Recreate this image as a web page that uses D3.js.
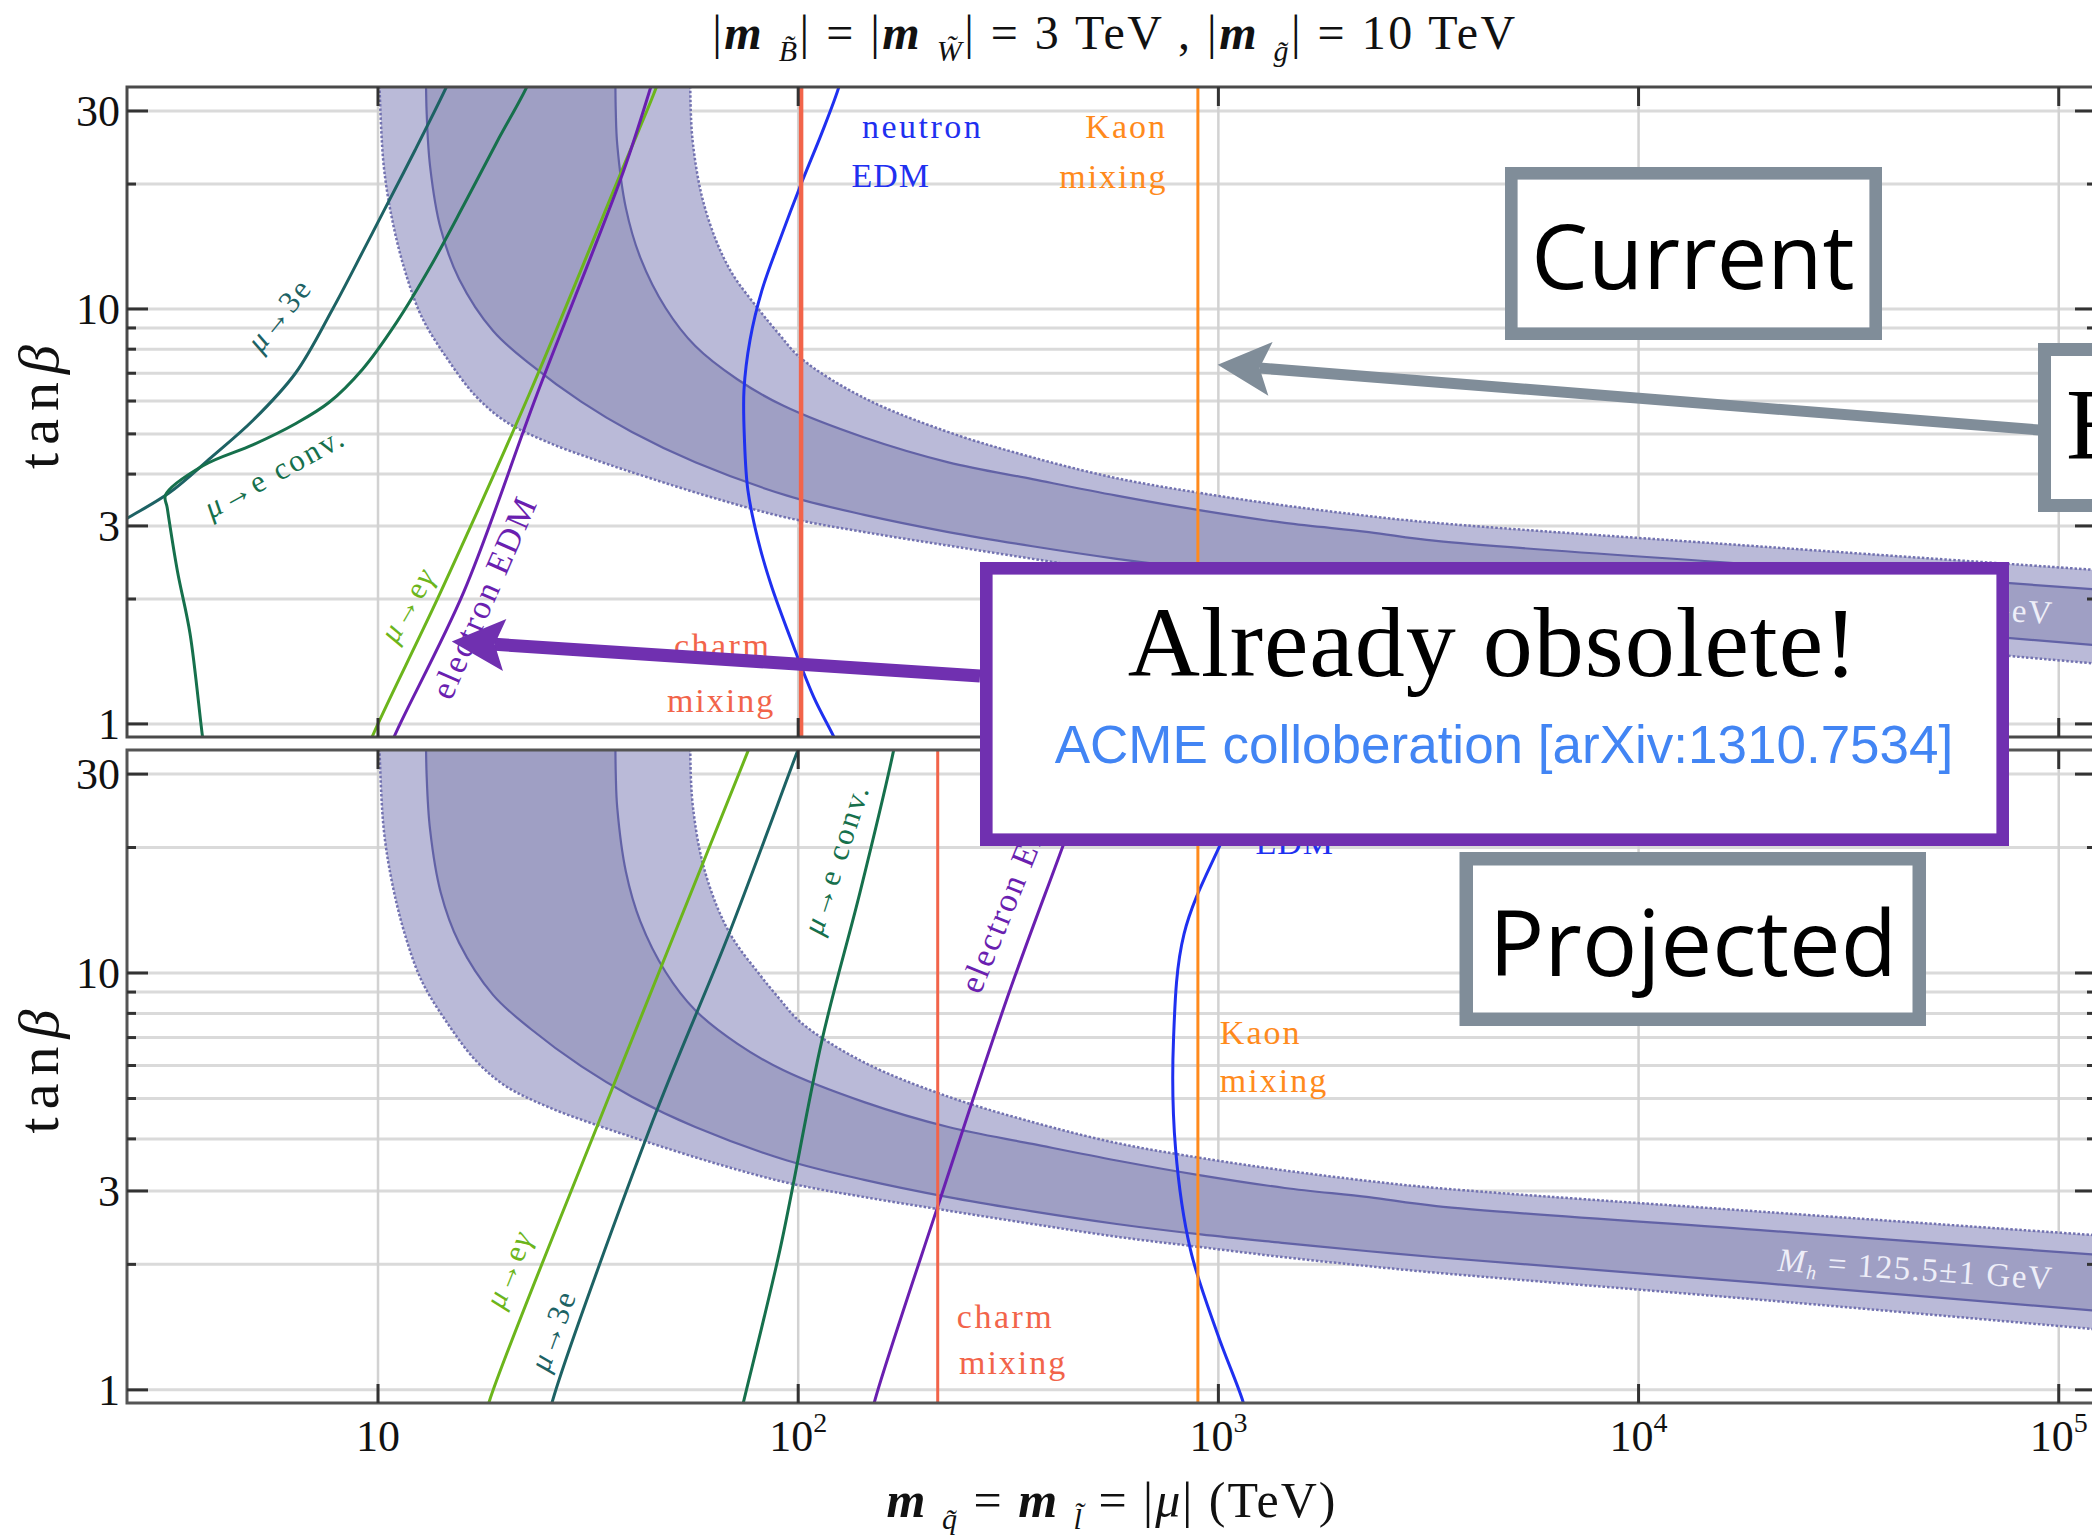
<!DOCTYPE html>
<html>
<head>
<meta charset="utf-8">
<script src="https://cdn.jsdelivr.net/npm/d3@7"></script>
<style>
body { margin: 0; background: #fff; }
svg { display: block; }
text { font-family: "Liberation Serif", "DejaVu Serif", serif; }
</style>
</head>
<body>
<script>
var W = 2092, H = 1535;

// axis ranges: squark/slepton mass (TeV) and tan beta
var mDomain = [2.527, 122650];
var tDomain = [0.93, 34.27];
var mTicks = [10, 100, 1000, 10000, 100000];
var mTickExp = ["", "2", "3", "4", "5"];
var tTicks = [1, 3, 10, 30];
var tGrid = [1, 2, 3, 4, 5, 6, 7, 8, 9, 10, 20, 30];

// Higgs mass band  M_h = 125.5 +- 1 GeV, edges as [m, tanb]
var bandOuterLow = [[10.0, 40], [10.08, 34], [10.32, 22.1], [10.81, 16.4], [11.58, 12.4], [12.7, 9.58], [14.6, 7.6], [17.1, 6.16], [20.1, 5.36], [25.4, 4.77], [33.5, 4.3], [44.1, 3.92], [63.8, 3.49], [94.1, 3.14], [143.6, 2.9], [227.7, 2.69], [360.9, 2.5], [572.6, 2.33], [908, 2.2], [1439, 2.08], [2280, 1.98], [3300, 1.91], [20180, 1.64], [130000, 1.39]];
var bandInnerLow = [[13.0, 40], [13.05, 30], [13.3, 22.1], [14.1, 15.6], [15.6, 11.8], [18.8, 8.85], [23.1, 7.34], [30.5, 5.97], [40.2, 5.05], [56.9, 4.27], [94.1, 3.55], [143.6, 3.19], [227.7, 2.9], [360.9, 2.68], [572.6, 2.5], [908, 2.36], [1439, 2.25], [2280, 2.15], [3300, 2.08], [20180, 1.8], [130000, 1.54]];
var bandInnerUp = [[36.7, 40], [36.8, 30], [37.1, 24.9], [38.9, 17.5], [42.1, 13.3], [48.4, 10.04], [56.9, 8.14], [71.6, 6.77], [92, 5.85], [143.6, 4.9], [227.7, 4.27], [360.9, 3.89], [572.6, 3.55], [908, 3.27], [1439, 3.05], [2280, 2.9], [3300, 2.76], [20180, 2.41], [130000, 2.1]];
var bandOuterUp = [[55.3, 40], [55.5, 30], [56.2, 24.9], [58.9, 18.8], [63.8, 14.6], [69.9, 12.1], [80.4, 10.0], [90, 8.7], [101.6, 7.6], [143.6, 6.1], [227.7, 5.05], [360.9, 4.39], [572.6, 3.91], [908, 3.6], [1439, 3.36], [2280, 3.17], [3300, 3.05], [20180, 2.67], [130000, 2.34]];
var bandLabelAt = [21370, 1.93];

// current bounds
var mu3eNow = [[2.3, 2.95], [2.53, 3.13], [3.18, 3.6], [4.01, 4.39], [5.05, 5.4], [6.36, 7.0], [7.8, 10.0], [9.25, 13.9], [10.25, 17.0], [12.24, 24.1], [14.55, 34.3], [15.2, 38]];
var muConvNow = [[3.88, 0.85], [3.83, 0.918], [3.57, 1.65], [3.33, 2.34], [3.15, 3.32], [3.12, 3.56], [3.83, 4.19], [5.05, 4.71], [6.36, 5.29], [7.64, 5.95], [9.2, 7.17], [11.06, 9.27], [13.3, 12.6], [16.0, 17.8], [19.2, 25.3], [22.6, 34.3], [23.5, 38]];
var muEgNow = [[9.4, 0.85], [9.63, 0.918], [14.1, 2.08], [22.9, 6.23], [38.0, 21.5], [46.0, 34.3], [47.5, 38]];
var eEdmNow = [[10.6, 0.85], [10.86, 0.918], [16.0, 2.08], [23.9, 6.23], [38.4, 21.5], [44.6, 34.3], [46.0, 38]];
var nEdmNow = [[128, 38], [125.0, 34.3], [113.9, 26.6], [101.6, 20.0], [90.5, 14.7], [82.0, 11.1], [76.8, 8.42], [74.3, 6.38], [74.5, 4.83], [75.9, 3.66], [80.2, 2.78], [86.1, 2.17], [94.1, 1.69], [108.9, 1.16], [122.2, 0.92], [126, 0.85]];
var charmNow = 101.6;
var kaonNow = 893.8;

// projected bounds
var muEgProj = [[18.0, 0.85], [18.4, 0.938], [35.0, 4.89], [75.9, 34.0], [79, 38]];
var mu3eProj = [[25.5, 0.85], [26.0, 0.938], [45.2, 4.45], [68.4, 12.4], [99.9, 34.3], [104, 38]];
var muConvProj = [[72.5, 0.85], [74.0, 0.93], [90.5, 2.17], [114, 6.92], [140.3, 15.6], [168.6, 34.1], [172, 38]];
var eEdmProj = [[149, 0.85], [152, 0.938], [217.5, 2.86], [314.6, 8.73], [424.5, 19.9], [515.5, 34.0], [530, 38]];
var nEdmProj = [[1340, 38], [1312, 33.9], [1008, 20.2], [828.3, 12.4], [782, 6.92], [791, 3.78], [858, 2.17], [996, 1.36], [1144, 0.938], [1170, 0.85]];
var charmProj = 214.8;
var kaonProj = 893.8;

var col = {
  mu3e: "#1d6264", conv: "#16704c", eg: "#6cb51c", eedm: "#6a1fb0",
  nedm: "#1f30f0", charm: "#f2644a", kaon: "#ff8a1c"
};

var panels = [
  {
    id: "now", top: 87, bottom: 737, frame: "#4a4a4a",
    curves: [
      {pts: mu3eNow, c: col.mu3e, w: 3}, {pts: muConvNow, c: col.conv, w: 3},
      {pts: muEgNow, c: col.eg, w: 3}, {pts: eEdmNow, c: col.eedm, w: 3},
      {pts: nEdmNow, c: col.nedm, w: 3},
      {pts: [[charmNow, 0.85], [charmNow, 38]], c: col.charm, w: 4.5},
      {pts: [[kaonNow, 0.85], [kaonNow, 38]], c: col.kaon, w: 3}
    ],
    labels: [
      {s: "μ→3e", m: 5.8, t: 9.71, r: -51, a: "middle", c: col.mu3e, f: 31, ls: 2},
      {s: "μ→e conv.", m: 5.67, t: 4.05, r: -29, a: "middle", c: col.conv, f: 31, ls: 2.5},
      {s: "μ→eγ", m: 11.72, t: 1.94, r: -60, a: "middle", c: col.eg, f: 31, ls: 2},
      {s: "electron EDM", m: 14.92, t: 1.133, r: -66.4, a: "start", c: col.eedm, f: 34, ls: 2},
      {s: "neutron", m: 141.8, t: 25.8, r: 0, a: "start", c: col.nedm, f: 34, ls: 2.5},
      {s: "EDM", m: 133.9, t: 19.7, r: 0, a: "start", c: col.nedm, f: 34, ls: 1},
      {s: "Kaon", m: 754.6, t: 25.8, r: 0, a: "end", c: col.kaon, f: 34, ls: 2},
      {s: "mixing", m: 757, t: 19.6, r: 0, a: "end", c: col.kaon, f: 34, ls: 2},
      {s: "charm", m: 50.6, t: 1.45, r: 0, a: "start", c: col.charm, f: 34, ls: 2.5},
      {s: "mixing", m: 48.7, t: 1.07, r: 0, a: "start", c: col.charm, f: 34, ls: 2}
    ]
  },
  {
    id: "proj", top: 750, bottom: 1403, frame: "#555",
    curves: [
      {pts: muEgProj, c: col.eg, w: 3}, {pts: mu3eProj, c: col.mu3e, w: 3},
      {pts: muConvProj, c: col.conv, w: 3}, {pts: eEdmProj, c: col.eedm, w: 3},
      {pts: nEdmProj, c: col.nedm, w: 3},
      {pts: [[charmProj, 0.85], [charmProj, 38]], c: col.charm, w: 3},
      {pts: [[kaonProj, 0.85], [kaonProj, 38]], c: col.kaon, w: 3}
    ],
    labels: [
      {s: "μ→eγ", m: 20.4, t: 1.95, r: -68, a: "middle", c: col.eg, f: 31, ls: 2},
      {s: "μ→3e", m: 26.0, t: 1.39, r: -70, a: "middle", c: col.mu3e, f: 31, ls: 2},
      {s: "μ→e conv.", m: 122.7, t: 18.8, r: -72, a: "middle", c: col.conv, f: 31, ls: 2.5},
      {s: "electron EDM", m: 270.8, t: 8.84, r: -68, a: "start", c: col.eedm, f: 34, ls: 2},
      {s: "neutron", m: 1298, t: 25.3, r: 0, a: "start", c: col.nedm, f: 34, ls: 2.5},
      {s: "EDM", m: 1226, t: 19.3, r: 0, a: "start", c: col.nedm, f: 34, ls: 1},
      {s: "Kaon", m: 1008, t: 6.77, r: 0, a: "start", c: col.kaon, f: 34, ls: 2},
      {s: "mixing", m: 1008, t: 5.18, r: 0, a: "start", c: col.kaon, f: 34, ls: 2},
      {s: "charm", m: 238.5, t: 1.41, r: 0, a: "start", c: col.charm, f: 34, ls: 2.5},
      {s: "mixing", m: 241.3, t: 1.09, r: 0, a: "start", c: col.charm, f: 34, ls: 2}
    ]
  }
];

var x = d3.scaleLog().domain(mDomain).range([127, 2096]);

var svg = d3.select("body").append("svg")
  .attr("width", W).attr("height", H);

svg.append("rect").attr("width", W).attr("height", H).attr("fill", "#fff");

var defs = svg.append("defs");

function addLabel(g, text, px, py, opt) {
  var el = g.append("text")
    .attr("x", px).attr("y", py)
    .attr("text-anchor", opt.a)
    .attr("fill", opt.c)
    .style("font-size", opt.f + "px")
    .style("letter-spacing", opt.ls + "px");
  if (opt.r) el.attr("transform", "rotate(" + opt.r + "," + px + "," + py + ")");
  if (opt.a === "middle") el.attr("dy", "0.35em");
  // italic greek letters
  text.split(/(μ|γ)/).forEach(function(part) {
    if (!part) return;
    var ts = el.append("tspan").text(part);
    if (part === "μ" || part === "γ") ts.style("font-style", "italic");
  });
  return el;
}

panels.forEach(function(p) {
  var y = d3.scaleLog().domain(tDomain).range([p.bottom, p.top]);
  var line = d3.line()
    .x(function(d) { return x(d[0]); })
    .y(function(d) { return y(d[1]); })
    .curve(d3.curveCatmullRom.alpha(0.5));

  defs.append("clipPath").attr("id", "clip-" + p.id)
    .append("rect")
    .attr("x", 127).attr("y", p.top)
    .attr("width", 2096 - 127).attr("height", p.bottom - p.top);

  var g = svg.append("g");
  var plot = g.append("g").attr("clip-path", "url(#clip-" + p.id + ")");

  // grid
  plot.selectAll(".hgrid").data(tGrid).enter().append("line")
    .attr("x1", 127).attr("x2", 2096)
    .attr("y1", function(d) { return y(d); }).attr("y2", function(d) { return y(d); })
    .attr("stroke", "#dadada").attr("stroke-width", 3);
  plot.selectAll(".vgrid").data(mTicks).enter().append("line")
    .attr("x1", function(d) { return x(d); }).attr("x2", function(d) { return x(d); })
    .attr("y1", p.top).attr("y2", p.bottom)
    .attr("stroke", "#d2d2d2").attr("stroke-width", 2.5);

  // Higgs band
  function bandPath(lo, up) {
    return line(lo) + line(up.slice().reverse()).replace(/^M/, "L") + "Z";
  }
  plot.append("path").attr("d", bandPath(bandOuterLow, bandOuterUp))
    .attr("fill", "#babad8");
  plot.append("path").attr("d", bandPath(bandInnerLow, bandInnerUp))
    .attr("fill", "#9f9fc4");
  [bandOuterLow, bandOuterUp].forEach(function(e) {
    plot.append("path").attr("d", line(e)).attr("fill", "none")
      .attr("stroke", "#7272b0").attr("stroke-width", 2.5)
      .attr("stroke-dasharray", "2.5,2");
  });
  [bandInnerLow, bandInnerUp].forEach(function(e) {
    plot.append("path").attr("d", line(e)).attr("fill", "none")
      .attr("stroke", "#6262a6").attr("stroke-width", 2.2);
  });

  // band label
  var bx = x(bandLabelAt[0]), by = y(bandLabelAt[1]);
  var bl = plot.append("text")
    .attr("x", bx).attr("y", by)
    .attr("transform", "rotate(3.9," + bx + "," + by + ")")
    .attr("fill", "#eeeef8")
    .style("font-size", "33px").style("letter-spacing", "1.5px");
  bl.append("tspan").style("font-style", "italic").text("M");
  bl.append("tspan").attr("dy", 6).style("font-size", "20px").style("font-style", "italic").text("h");
  bl.append("tspan").attr("dy", -6).text(" = 125.5±1 GeV");

  // constraint curves
  plot.selectAll(".curve").data(p.curves).enter().append("path")
    .attr("d", function(d) { return line(d.pts); })
    .attr("fill", "none")
    .attr("stroke", function(d) { return d.c; })
    .attr("stroke-width", function(d) { return d.w; });

  // curve labels
  p.labels.forEach(function(l) {
    addLabel(g, l.s, x(l.m), y(l.t), l);
  });

  // frame and ticks
  g.append("rect")
    .attr("x", 127).attr("y", p.top)
    .attr("width", 2096 - 127).attr("height", p.bottom - p.top)
    .attr("fill", "none").attr("stroke", p.frame).attr("stroke-width", 3);

  tGrid.forEach(function(t) {
    var len = tTicks.indexOf(t) >= 0 ? 21 : 9;
    g.append("line").attr("x1", 127).attr("x2", 127 + len)
      .attr("y1", y(t)).attr("y2", y(t))
      .attr("stroke", "#333").attr("stroke-width", 3);
    g.append("line").attr("x1", 2096).attr("x2", 2096 - len)
      .attr("y1", y(t)).attr("y2", y(t))
      .attr("stroke", "#333").attr("stroke-width", 3);
  });
  mTicks.forEach(function(m) {
    g.append("line").attr("x1", x(m)).attr("x2", x(m))
      .attr("y1", p.bottom).attr("y2", p.bottom - 19)
      .attr("stroke", "#333").attr("stroke-width", 3);
    g.append("line").attr("x1", x(m)).attr("x2", x(m))
      .attr("y1", p.top).attr("y2", p.top + 19)
      .attr("stroke", "#333").attr("stroke-width", 3);
  });

  // y tick labels
  g.selectAll(".ylab").data(tTicks).enter().append("text")
    .attr("x", 120).attr("y", function(d) { return y(d); })
    .attr("dy", "0.35em")
    .attr("text-anchor", "end")
    .attr("fill", "#111")
    .style("font-size", "44px")
    .text(function(d) { return d; });

  // y axis title
  var ymid = (p.top + p.bottom) / 2;
  var yt = g.append("text")
    .attr("x", 67).attr("y", ymid)
    .attr("transform", "rotate(-90,58," + ymid + ")")
    .attr("text-anchor", "middle")
    .attr("fill", "#111")
    .style("font-size", "58px").style("letter-spacing", "8px");
  yt.append("tspan").text("tan");
  yt.append("tspan").style("font-style", "italic").text("β");
  p.y = y;
});

// x tick labels (bottom panel only)
mTicks.forEach(function(m, i) {
  var t = svg.append("text")
    .attr("x", x(m)).attr("y", 1451)
    .attr("text-anchor", "middle")
    .attr("fill", "#111")
    .style("font-size", "44px");
  t.append("tspan").text("10");
  if (mTickExp[i]) {
    t.append("tspan").attr("dy", -19).style("font-size", "28px").text(mTickExp[i]);
  }
});

// title
function sub(el, s) {
  el.append("tspan").attr("dy", 12).style("font-size", "30px").style("font-style", "italic").text(s);
}
var title = svg.append("text")
  .attr("x", 1115).attr("y", 49)
  .attr("text-anchor", "middle")
  .attr("fill", "#111")
  .style("font-size", "48px").style("letter-spacing", "2.5px");
title.append("tspan").text("|");
title.append("tspan").style("font-style", "italic").style("font-weight", "bold").text("m ");
sub(title, "B\u0303");
title.append("tspan").attr("dy", -12).text("| = |");
title.append("tspan").style("font-style", "italic").style("font-weight", "bold").text("m ");
sub(title, "W\u0303");
title.append("tspan").attr("dy", -12).text("| = 3 TeV ,  |");
title.append("tspan").style("font-style", "italic").style("font-weight", "bold").text("m ");
sub(title, "g\u0303");
title.append("tspan").attr("dy", -12).text("| = 10 TeV");

// x axis title
var xt = svg.append("text")
  .attr("x", 1112).attr("y", 1517)
  .attr("text-anchor", "middle")
  .attr("fill", "#111")
  .style("font-size", "50px").style("letter-spacing", "2px");
xt.append("tspan").style("font-style", "italic").style("font-weight", "bold").text("m ");
sub(xt, "q\u0303");
xt.append("tspan").attr("dy", -12).text(" = ");
xt.append("tspan").style("font-style", "italic").style("font-weight", "bold").text("m ");
sub(xt, "l\u0303");
xt.append("tspan").attr("dy", -12).text(" = |");
xt.append("tspan").style("font-style", "italic").text("μ");
xt.append("tspan").text("|  (TeV)");

// annotations
var ann = svg.append("g");

function arrow(x1, y1, x2, y2, color, w, L, hw, n) {
  var dx = x1 - x2, dy = y1 - y2, len = Math.hypot(dx, dy);
  var ux = dx / len, uy = dy / len, px = -uy, py = ux;
  ann.append("line")
    .attr("x1", x1).attr("y1", y1)
    .attr("x2", x2 + ux * n).attr("y2", y2 + uy * n)
    .attr("stroke", color).attr("stroke-width", w);
  var pts = [
    [x2, y2],
    [x2 + ux * L + px * hw, y2 + uy * L + py * hw],
    [x2 + ux * n, y2 + uy * n],
    [x2 + ux * L - px * hw, y2 + uy * L - py * hw]
  ];
  ann.append("polygon")
    .attr("points", pts.map(function(q) { return q.join(","); }).join(" "))
    .attr("fill", color);
}

function box(x0, y0, x1, y1, sw, color) {
  ann.append("rect")
    .attr("x", x0 + sw / 2).attr("y", y0 + sw / 2)
    .attr("width", x1 - x0 - sw).attr("height", y1 - y0 - sw)
    .attr("fill", "#fff").attr("stroke", color).attr("stroke-width", sw);
}

var yNow = panels[0].y;
var grey = "#808d99", purple = "#7030b0";

// arrows point at the kaon line and the electron EDM label of the current panel
arrow(2039, 430, x(996), yNow(7.34), grey, 11, 53, 27, 42);
arrow(980, 676, x(14.98), yNow(1.58), purple, 13, 53, 26, 43);

box(1505, 167, 1882, 340, 12.6, grey);
ann.append("text").attr("x", 1693).attr("y", 289)
  .attr("text-anchor", "middle").attr("fill", "#000")
  .style("font-family", "'Open Sans', sans-serif").style("font-size", "90px")
  .text("Current");

box(2038, 343, 2300, 512, 13, grey);
ann.append("text").attr("x", 2066).attr("y", 459)
  .attr("fill", "#000")
  .style("font-size", "102px")
  .text("Earlier");

box(1459.5, 852, 1926, 1026, 13.5, grey);
ann.append("text").attr("x", 1693).attr("y", 976)
  .attr("text-anchor", "middle").attr("fill", "#000")
  .style("font-family", "'Open Sans', sans-serif").style("font-size", "92px")
  .text("Projected");

box(980, 562, 2009, 846, 12.6, purple);
ann.append("text").attr("x", 1493).attr("y", 676)
  .attr("text-anchor", "middle").attr("fill", "#000")
  .style("font-size", "100px").style("letter-spacing", "1px")
  .text("Already obsolete!");
ann.append("text").attr("x", 1504).attr("y", 763)
  .attr("text-anchor", "middle").attr("fill", "#4285f4")
  .style("font-family", "'Liberation Sans', Arial, sans-serif").style("font-size", "53px")
  .text("ACME colloberation [arXiv:1310.7534]");
</script>
</body>
</html>
